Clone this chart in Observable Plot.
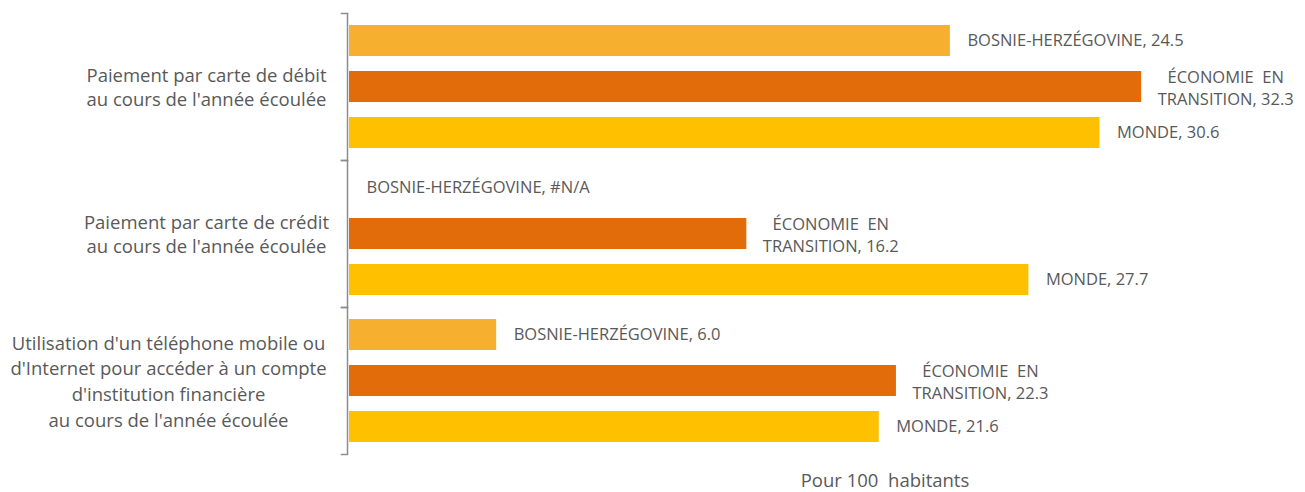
<!DOCTYPE html>
<html><head><meta charset="utf-8">
<script src="https://cdn.jsdelivr.net/npm/d3@7"></script>
<script src="https://cdn.jsdelivr.net/npm/@observablehq/plot@0.6"></script>
<style>
body{margin:0;background:#fff;font-family:"Open Sans",sans-serif;}
#wrap{position:relative;width:1305px;height:492px;}
#caption{position:absolute;left:0;width:1305px;top:470px;color:#595959;font-size:18.5px;line-height:20px;}
#caption span{position:absolute;left:885px;transform:translateX(-50%);white-space:pre;}
</style></head>
<body><div id="wrap"><div id="chart"></div><div id="caption"><span>Pour 100  habitants</span></div></div>
<script>
const categories = [
  "Paiement par carte de débit\nau cours de l'année écoulée",
  "Paiement par carte de crédit\nau cours de l'année écoulée",
  "Utilisation d'un téléphone mobile ou\nd'Internet pour accéder à un compte\nd'institution financière\nau cours de l'année écoulée"
];
const series = ["BOSNIE-HERZÉGOVINE", "ÉCONOMIE EN TRANSITION", "MONDE"];
const seriesLabels = ["BOSNIE-HERZÉGOVINE", "ÉCONOMIE  EN\nTRANSITION", "MONDE"];
const bosnie = [24.5, null, 6.0];
const economie = [32.3, 16.2, 22.3];
const monde = [30.6, 27.7, 21.6];
const colors = ["#F7AF30", "#E36C0A", "#FFC000"];

const values = [bosnie, economie, monde];
const data = [];
categories.forEach((c, i) => series.forEach((s, j) => {
  const v = values[j][i];
  data.push({category: c, series: s, label: seriesLabels[j], value: v,
    text: seriesLabels[j] + ", " + (v == null ? "#N/A" : v.toFixed(1)), two: j === 1});
}));
const catData = categories.map((c, i) => ({category: c, idx: i}));

const gray = "#595959";
const axisGray = "#8c8c8c";
const chart = Plot.plot({
  width: 1305, height: 465,
  marginLeft: 349, marginRight: 24, marginTop: 12, marginBottom: 10,
  style: {fontFamily: "'Open Sans', sans-serif", color: gray},
  x: {domain: [0, 38], axis: null},
  y: {domain: series, axis: null, paddingInner: 0.32, paddingOuter: 0.234},
  fy: {domain: categories, axis: null, padding: 0},
  color: {domain: series, range: colors},
  marks: [
    Plot.barX(data.filter(d => d.value != null), {x: "value", y: "series", fy: "category", fill: "series"}),
    Plot.text(data.filter(d => !d.two), {x: d => d.value ?? 0, y: "series", fy: "category", text: "text", textAnchor: "start", dx: 17, fill: gray, fontSize: 16.5}),
    Plot.text(data.filter(d => d.two), {x: "value", y: "series", fy: "category", text: "text", textAnchor: "middle", dx: 84, dy: 0, fill: gray, fontSize: 16.5, lineHeight: 1.32}),
    Plot.text(catData.filter(d => d.idx < 2), {fy: "category", frameAnchor: "left", text: "category", textAnchor: "middle", dx: -143, dy: -1, fill: gray, fontSize: 18.5, lineHeight: 1.32}),
    Plot.text(catData.filter(d => d.idx === 2), {fy: "category", frameAnchor: "left", text: "category", textAnchor: "middle", dx: -181, dy: -1, fill: gray, fontSize: 18.5, lineHeight: 1.39}),
    Plot.ruleX([0], {dx: -2, stroke: axisGray, strokeWidth: 1.5}),
    Plot.frame({anchor: "top", stroke: axisGray, strokeWidth: 1.5, insetLeft: -8, insetRight: 934}),
    Plot.frame({anchor: "bottom", stroke: axisGray, strokeWidth: 1.5, insetLeft: -8, insetRight: 934})
  ]
});
document.getElementById("chart").appendChild(chart);
</script></body></html>
